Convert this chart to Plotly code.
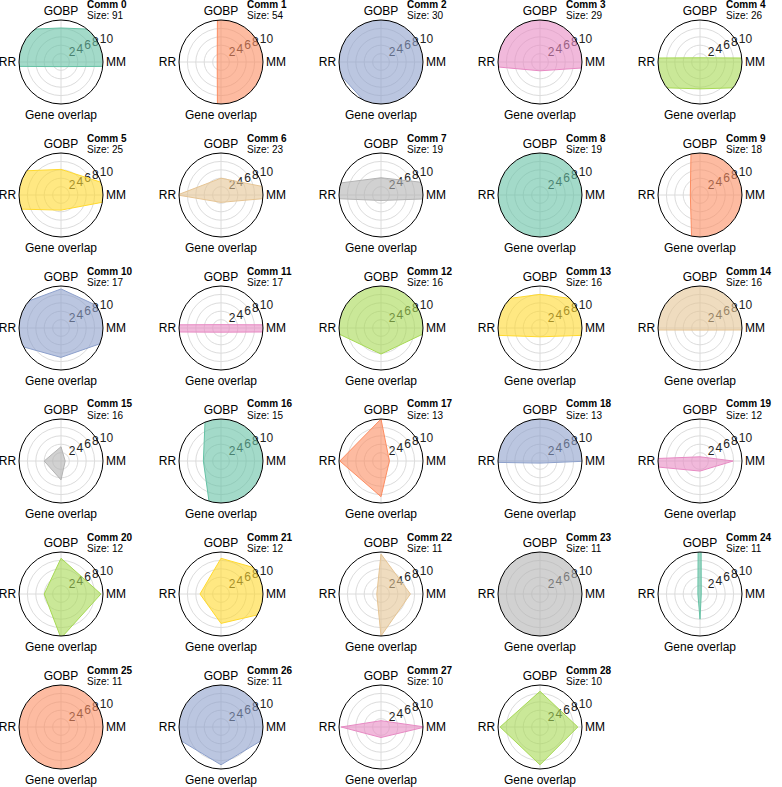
import plotly.graph_objects as go

# ---- data -----------------------------------------------------------
categories = ["GOBP", "MM", "Gene overlap", "RR"]
category_angles = [90, 0, 270, 180]
comm_ids = list(range(29))
sizes = [91, 54, 30, 29, 26, 25, 23, 19, 19, 18, 17, 17, 16, 16, 16, 16,
         15, 13, 13, 12, 12, 12, 11, 11, 11, 11, 11, 10, 10]
gobp = [8.1, 200, 200, 200, 1.0, 6.1, 4.0, 4.1, 100, 150,
        9.3, 0.8, 30, 8, 200, 3.4, 99, 10, 100, 1.0,
        8.5, 8.5, 9.5, 100, 100, 100, 100, 1.5, 8.5]
mm = [200, 200, 200, 31, 200, 19, 20, 37, 100, 150,
      20, 200, 13, 60, 200, 1.0, 200, 2, 12, 7.9,
      9.5, 30, 7, 100, 0.3, 100, 15, 10.5, 9]
gene_overlap = [1.1, 200, 13.7, 2.1, 6.4, 3.6, 1.75, 1.3, 100, 80,
                7.0, 1.0, 6.2, 2.1, 0.5, 4.5, 30, 8.5, 0.5, 2.4,
                10.5, 7, 10, 100, 6, 100, 9, 2.5, 9]
rr = [200, 0.9, 12.5, 23, 200, 150, 10.4, 32, 100, 2.3,
      25, 200, 13, 60, 200, 4.0, 4.2, 9.8, 30, 25,
      4, 5, 1, 100, 0.5, 100, 15, 9.5, 9.5]
palette = ["#66c2a5", "#fc8d62", "#8da0cb", "#e78ac3",
           "#a6d854", "#ffd92f", "#e5c494", "#b3b3b3"]
radial_ticks = [2, 4, 6, 8, 10]
radial_label_angle = 22.5

# ---- layout geometry -------------------------------------------------
W, H = 782, 787
col_cx = [61, 221, 381, 540, 700]
row_cy = [62, 195, 328, 461, 594, 727]
R = 42
FONT = "Liberation Sans, Arial, sans-serif"


def rgba(hex_color, a):
    h = hex_color.lstrip("#")
    r, g, b = int(h[0:2], 16), int(h[2:4], 16), int(h[4:6], 16)
    return f"rgba({r},{g},{b},{a})"


fig = go.Figure()
layout_polars = {}
annotations = []
for i in comm_ids:
    row, col = divmod(i, 5)
    cx, cy = col_cx[col], row_cy[row]
    key = "polar" if i == 0 else f"polar{i+1}"
    vals = [gobp[i], mm[i], gene_overlap[i], rr[i]]
    color = palette[i % 8]
    # radial tick labels (drawn first so the fill tints them)
    fig.add_trace(go.Scatterpolar(
        r=radial_ticks,
        theta=[radial_label_angle] * len(radial_ticks),
        mode="text",
        text=[str(t) for t in radial_ticks],
        textposition="top right",
        textfont=dict(family=FONT, size=12, color="#222222"),
        cliponaxis=False,
        subplot=key,
        showlegend=False,
        hoverinfo="skip",
    ))
    fig.add_trace(go.Scatterpolar(
        r=vals + [vals[0]],
        theta=category_angles + [category_angles[0]],
        mode="lines",
        fill="toself",
        fillcolor=rgba(color, 0.6),
        line=dict(color=color, width=1),
        subplot=key,
        showlegend=False,
        hoverinfo="skip",
    ))
    layout_polars[key] = dict(
        domain=dict(x=[(cx - R) / W, (cx + R) / W],
                    y=[1 - (cy + R) / H, 1 - (cy - R) / H]),
        bgcolor="white",
        angularaxis=dict(
            type="linear",
            thetaunit="degrees",
            rotation=0,
            direction="counterclockwise",
            tickmode="array",
            tickvals=category_angles,
            ticktext=categories,
            showline=True,
            linecolor="black",
            linewidth=1,
            showgrid=True,
            gridcolor="#dcdcdc",
            gridwidth=1,
            ticks="",
            tickfont=dict(family=FONT, size=12, color="black"),
            layer="above traces",
        ),
        radialaxis=dict(
            range=[0, 10],
            tickvals=radial_ticks,
            showticklabels=False,
            angle=radial_label_angle,
            showline=False,
            ticks="",
            showgrid=True,
            gridcolor="#dcdcdc",
            gridwidth=1,
            layer="below traces",
        ),
    )
    annotations.append(dict(
        x=(cx + 24) / W, y=1 - (cy - 57) / H, xref="paper", yref="paper",
        text=f"<b>Comm {i}</b>", showarrow=False, xanchor="left", yanchor="middle",
        font=dict(family=FONT, size=10, color="black"),
    ))
    annotations.append(dict(
        x=(cx + 24) / W, y=1 - (cy - 46) / H, xref="paper", yref="paper",
        text=f"Size: {sizes[i]}", showarrow=False, xanchor="left", yanchor="middle",
        font=dict(family=FONT, size=10, color="black"),
    ))

fig.update_layout(
    width=W, height=H,
    margin=dict(l=0, r=0, t=0, b=0),
    paper_bgcolor="white",
    plot_bgcolor="white",
    showlegend=False,
    annotations=annotations,
    **layout_polars,
)

fig.write_html("out.html", config={"displayModeBar": False},
               post_script="document.body.style.margin='0px';")
